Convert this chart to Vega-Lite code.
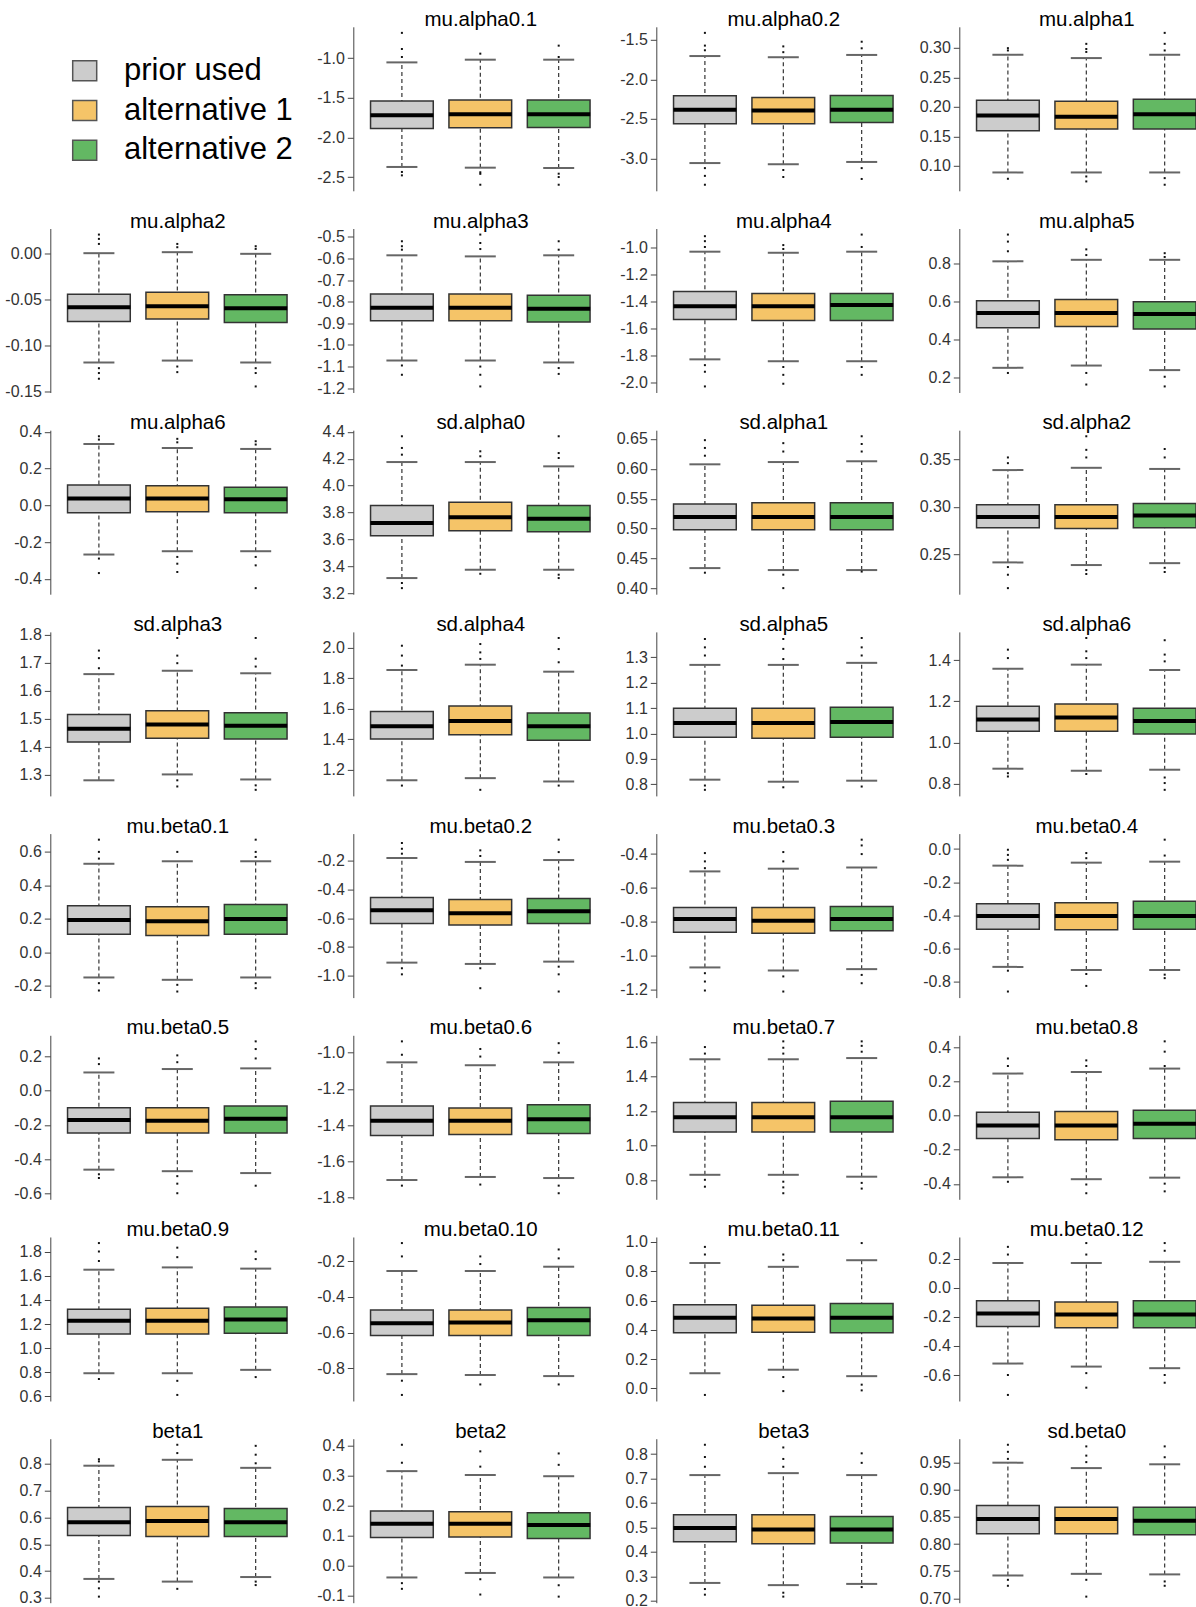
{
  "$schema": "https://vega.github.io/schema/vega-lite/v6.json",
  "autosize": {"type": "none"},
  "padding": {"left": 50.3, "top": 26.8, "right": 1200, "bottom": 1700},
  "background": "white",
  "data": {"values": [
    {"p":1,"g":"a","lo":-2.373,"q1":-1.887,"md":-1.722,"q3":-1.541,"hi":-1.055},
    {"p":1,"g":"b","lo":-2.382,"q1":-1.879,"md":-1.710,"q3":-1.528,"hi":-1.021},
    {"p":1,"g":"c","lo":-2.386,"q1":-1.875,"md":-1.710,"q3":-1.528,"hi":-1.021},
    {"p":1,"g":"a","v":-0.683},{"p":1,"g":"a","v":-0.886},{"p":1,"g":"a","v":-0.987},{"p":1,"g":"a","v":-2.436},{"p":1,"g":"a","v":-2.479},
    {"p":1,"g":"b","v":-0.945},{"p":1,"g":"b","v":-2.44},{"p":1,"g":"b","v":-2.46},{"p":1,"g":"b","v":-2.597},
    {"p":1,"g":"c","v":-0.844},{"p":1,"g":"c","v":-0.987},{"p":1,"g":"c","v":-2.458},{"p":1,"g":"c","v":-2.5},{"p":1,"g":"c","v":-2.597},

    {"p":2,"g":"a","lo":-3.058,"q1":-2.560,"md":-2.384,"q3":-2.208,"hi":-1.705},
    {"p":2,"g":"b","lo":-3.073,"q1":-2.560,"md":-2.394,"q3":-2.228,"hi":-1.720},
    {"p":2,"g":"c","lo":-3.044,"q1":-2.545,"md":-2.384,"q3":-2.203,"hi":-1.691},
    {"p":2,"g":"a","v":-1.412},{"p":2,"g":"a","v":-1.573},{"p":2,"g":"a","v":-1.632},{"p":2,"g":"a","v":-3.122},{"p":2,"g":"a","v":-3.22},{"p":2,"g":"a","v":-3.332},
    {"p":2,"g":"b","v":-1.583},{"p":2,"g":"b","v":-1.656},{"p":2,"g":"b","v":-3.146},{"p":2,"g":"b","v":-3.234},
    {"p":2,"g":"c","v":-1.524},{"p":2,"g":"c","v":-1.607},{"p":2,"g":"c","v":-3.122},{"p":2,"g":"c","v":-3.259},

    {"p":3,"g":"a","lo":0.0888,"q1":0.1596,"md":0.1854,"q3":0.2112,"hi":0.2882},
    {"p":3,"g":"b","lo":0.0888,"q1":0.1624,"md":0.1831,"q3":0.2096,"hi":0.2826},
    {"p":3,"g":"c","lo":0.0888,"q1":0.1624,"md":0.1876,"q3":0.2129,"hi":0.2882},
    {"p":3,"g":"a","v":0.2994},{"p":3,"g":"a","v":0.2955},{"p":3,"g":"a","v":0.0781},
    {"p":3,"g":"b","v":0.3067},{"p":3,"g":"b","v":0.298},{"p":3,"g":"b","v":0.293},{"p":3,"g":"b","v":0.082},{"p":3,"g":"b","v":0.0736},
    {"p":3,"g":"c","v":0.3253},{"p":3,"g":"c","v":0.3067},{"p":3,"g":"c","v":0.2955},{"p":3,"g":"c","v":0.0792},{"p":3,"g":"c","v":0.068},

    {"p":4,"g":"a","lo":-0.1185,"q1":-0.0737,"md":-0.0582,"q3":-0.0441,"hi":0.0007},
    {"p":4,"g":"b","lo":-0.1164,"q1":-0.0712,"md":-0.0571,"q3":-0.0419,"hi":0.0018},
    {"p":4,"g":"c","lo":-0.1185,"q1":-0.0748,"md":-0.0593,"q3":-0.0445,"hi":0.0},
    {"p":4,"g":"a","v":0.021},{"p":4,"g":"a","v":0.0163},{"p":4,"g":"a","v":0.0108},{"p":4,"g":"a","v":-0.1247},{"p":4,"g":"a","v":-0.130},{"p":4,"g":"a","v":-0.1362},
    {"p":4,"g":"b","v":0.0108},{"p":4,"g":"b","v":0.0072},{"p":4,"g":"b","v":-0.1229},{"p":4,"g":"b","v":-0.129},
    {"p":4,"g":"c","v":0.0083},{"p":4,"g":"c","v":0.0054},{"p":4,"g":"c","v":-0.1247},{"p":4,"g":"c","v":-0.130},{"p":4,"g":"c","v":-0.1446},

    {"p":5,"g":"a","lo":-1.072,"q1":-0.888,"md":-0.828,"q3":-0.764,"hi":-0.585},
    {"p":5,"g":"b","lo":-1.072,"q1":-0.888,"md":-0.828,"q3":-0.764,"hi":-0.590},
    {"p":5,"g":"c","lo":-1.081,"q1":-0.894,"md":-0.832,"q3":-0.770,"hi":-0.585},
    {"p":5,"g":"a","v":-0.520},{"p":5,"g":"a","v":-0.543},{"p":5,"g":"a","v":-0.559},{"p":5,"g":"a","v":-1.095},{"p":5,"g":"a","v":-1.138},
    {"p":5,"g":"b","v":-0.489},{"p":5,"g":"b","v":-0.528},{"p":5,"g":"b","v":-0.556},{"p":5,"g":"b","v":-1.100},{"p":5,"g":"b","v":-1.138},{"p":5,"g":"b","v":-1.192},
    {"p":5,"g":"c","v":-0.520},{"p":5,"g":"c","v":-0.559},{"p":5,"g":"c","v":-1.107},{"p":5,"g":"c","v":-1.134},

    {"p":6,"g":"a","lo":-1.828,"q1":-1.532,"md":-1.434,"q3":-1.325,"hi":-1.029},
    {"p":6,"g":"b","lo":-1.842,"q1":-1.540,"md":-1.434,"q3":-1.339,"hi":-1.037},
    {"p":6,"g":"c","lo":-1.842,"q1":-1.540,"md":-1.425,"q3":-1.339,"hi":-1.029},
    {"p":6,"g":"a","v":-0.914},{"p":6,"g":"a","v":-0.951},{"p":6,"g":"a","v":-0.994},{"p":6,"g":"a","v":-1.871},{"p":6,"g":"a","v":-1.92},{"p":6,"g":"a","v":-2.029},
    {"p":6,"g":"b","v":-0.980},{"p":6,"g":"b","v":-1.009},{"p":6,"g":"b","v":-1.885},{"p":6,"g":"b","v":-1.943},{"p":6,"g":"b","v":-2.009},
    {"p":6,"g":"c","v":-0.902},{"p":6,"g":"c","v":-0.994},{"p":6,"g":"c","v":-1.885},{"p":6,"g":"c","v":-1.943},

    {"p":7,"g":"a","lo":0.253,"q1":0.464,"md":0.542,"q3":0.607,"hi":0.814},
    {"p":7,"g":"b","lo":0.265,"q1":0.471,"md":0.542,"q3":0.613,"hi":0.822},
    {"p":7,"g":"c","lo":0.241,"q1":0.458,"md":0.536,"q3":0.601,"hi":0.822},
    {"p":7,"g":"a","v":0.955},{"p":7,"g":"a","v":0.918},{"p":7,"g":"a","v":0.867},{"p":7,"g":"a","v":0.226},
    {"p":7,"g":"b","v":0.877},{"p":7,"g":"b","v":0.847},{"p":7,"g":"b","v":0.226},{"p":7,"g":"b","v":0.165},
    {"p":7,"g":"c","v":0.857},{"p":7,"g":"c","v":0.837},{"p":7,"g":"c","v":0.206},{"p":7,"g":"c","v":0.155},

    {"p":8,"g":"a","lo":-0.268,"q1":-0.040,"md":0.037,"q3":0.111,"hi":0.334},
    {"p":8,"g":"b","lo":-0.250,"q1":-0.035,"md":0.037,"q3":0.106,"hi":0.312},
    {"p":8,"g":"c","lo":-0.250,"q1":-0.040,"md":0.033,"q3":0.099,"hi":0.307},
    {"p":8,"g":"a","v":0.376},{"p":8,"g":"a","v":0.358},{"p":8,"g":"a","v":-0.290},{"p":8,"g":"a","v":-0.369},
    {"p":8,"g":"b","v":0.362},{"p":8,"g":"b","v":0.343},{"p":8,"g":"b","v":-0.281},{"p":8,"g":"b","v":-0.318},{"p":8,"g":"b","v":-0.363},
    {"p":8,"g":"c","v":0.349},{"p":8,"g":"c","v":0.331},{"p":8,"g":"c","v":-0.281},{"p":8,"g":"c","v":-0.327},{"p":8,"g":"c","v":-0.451},

    {"p":9,"g":"a","lo":3.312,"q1":3.627,"md":3.722,"q3":3.853,"hi":4.176},
    {"p":9,"g":"b","lo":3.374,"q1":3.665,"md":3.764,"q3":3.876,"hi":4.176},
    {"p":9,"g":"c","lo":3.374,"q1":3.657,"md":3.754,"q3":3.853,"hi":4.144},
    {"p":9,"g":"a","v":4.368},{"p":9,"g":"a","v":4.281},{"p":9,"g":"a","v":4.231},{"p":9,"g":"a","v":3.275},{"p":9,"g":"a","v":3.237},
    {"p":9,"g":"b","v":4.256},{"p":9,"g":"b","v":4.219},{"p":9,"g":"b","v":3.344},
    {"p":9,"g":"c","v":4.368},{"p":9,"g":"c","v":4.243},{"p":9,"g":"c","v":4.206},{"p":9,"g":"c","v":3.337},{"p":9,"g":"c","v":3.312},

    {"p":10,"g":"a","lo":0.4341,"q1":0.4983,"md":0.5195,"q3":0.5414,"hi":0.6076},
    {"p":10,"g":"b","lo":0.4308,"q1":0.4983,"md":0.5195,"q3":0.5433,"hi":0.6114},
    {"p":10,"g":"c","lo":0.4308,"q1":0.4983,"md":0.5195,"q3":0.5433,"hi":0.6127},
    {"p":10,"g":"a","v":0.648},{"p":10,"g":"a","v":0.635},{"p":10,"g":"a","v":0.622},{"p":10,"g":"a","v":0.4264},
    {"p":10,"g":"b","v":0.643},{"p":10,"g":"b","v":0.629},{"p":10,"g":"b","v":0.4231},{"p":10,"g":"b","v":0.4006},
    {"p":10,"g":"c","v":0.6545},{"p":10,"g":"c","v":0.6416},{"p":10,"g":"c","v":0.629},{"p":10,"g":"c","v":0.4283},

    {"p":11,"g":"a","lo":0.2415,"q1":0.2779,"md":0.2893,"q3":0.3022,"hi":0.3387},
    {"p":11,"g":"b","lo":0.2387,"q1":0.2771,"md":0.2893,"q3":0.3022,"hi":0.3411},
    {"p":11,"g":"c","lo":0.2407,"q1":0.2779,"md":0.2909,"q3":0.3034,"hi":0.3399},
    {"p":11,"g":"a","v":0.352},{"p":11,"g":"a","v":0.346},{"p":11,"g":"a","v":0.2366},{"p":11,"g":"a","v":0.2285},{"p":11,"g":"a","v":0.2144},
    {"p":11,"g":"b","v":0.3743},{"p":11,"g":"b","v":0.360},{"p":11,"g":"b","v":0.352},{"p":11,"g":"b","v":0.2334},{"p":11,"g":"b","v":0.2293},
    {"p":11,"g":"c","v":0.3609},{"p":11,"g":"c","v":0.352},{"p":11,"g":"c","v":0.2358},{"p":11,"g":"c","v":0.2314},

    {"p":12,"g":"a","lo":1.280,"q1":1.417,"md":1.464,"q3":1.515,"hi":1.659},
    {"p":12,"g":"b","lo":1.301,"q1":1.430,"md":1.479,"q3":1.528,"hi":1.671},
    {"p":12,"g":"c","lo":1.283,"q1":1.427,"md":1.475,"q3":1.521,"hi":1.662},
    {"p":12,"g":"a","v":1.743},{"p":12,"g":"a","v":1.716},{"p":12,"g":"a","v":1.680},
    {"p":12,"g":"b","v":1.788},{"p":12,"g":"b","v":1.725},{"p":12,"g":"b","v":1.698},{"p":12,"g":"b","v":1.280},{"p":12,"g":"b","v":1.258},
    {"p":12,"g":"c","v":1.788},{"p":12,"g":"c","v":1.714},{"p":12,"g":"c","v":1.686},{"p":12,"g":"c","v":1.262},{"p":12,"g":"c","v":1.246},

    {"p":13,"g":"a","lo":1.129,"q1":1.401,"md":1.485,"q3":1.581,"hi":1.855},
    {"p":13,"g":"b","lo":1.143,"q1":1.428,"md":1.520,"q3":1.618,"hi":1.890},
    {"p":13,"g":"c","lo":1.121,"q1":1.393,"md":1.485,"q3":1.572,"hi":1.844},
    {"p":13,"g":"a","v":2.015},{"p":13,"g":"a","v":1.950},{"p":13,"g":"a","v":1.884},{"p":13,"g":"a","v":1.094},
    {"p":13,"g":"b","v":2.026},{"p":13,"g":"b","v":1.971},{"p":13,"g":"b","v":1.928},{"p":13,"g":"b","v":1.066},
    {"p":13,"g":"c","v":2.066},{"p":13,"g":"c","v":1.993},{"p":13,"g":"c","v":1.906},{"p":13,"g":"c","v":1.094},

    {"p":14,"g":"a","lo":0.818,"q1":0.985,"md":1.041,"q3":1.099,"hi":1.270},
    {"p":14,"g":"b","lo":0.810,"q1":0.981,"md":1.041,"q3":1.099,"hi":1.270},
    {"p":14,"g":"c","lo":0.814,"q1":0.985,"md":1.045,"q3":1.103,"hi":1.278},
    {"p":14,"g":"a","v":1.372},{"p":14,"g":"a","v":1.339},{"p":14,"g":"a","v":1.307},{"p":14,"g":"a","v":0.795},{"p":14,"g":"a","v":0.778},
    {"p":14,"g":"b","v":1.372},{"p":14,"g":"b","v":1.333},{"p":14,"g":"b","v":1.293},{"p":14,"g":"b","v":0.788},
    {"p":14,"g":"c","v":1.376},{"p":14,"g":"c","v":1.339},{"p":14,"g":"c","v":1.307},{"p":14,"g":"c","v":0.791},

    {"p":15,"g":"a","lo":0.872,"q1":1.054,"md":1.112,"q3":1.176,"hi":1.359},
    {"p":15,"g":"b","lo":0.862,"q1":1.054,"md":1.122,"q3":1.187,"hi":1.379},
    {"p":15,"g":"c","lo":0.867,"q1":1.041,"md":1.104,"q3":1.167,"hi":1.353},
    {"p":15,"g":"a","v":1.452},{"p":15,"g":"a","v":1.411},{"p":15,"g":"a","v":0.850},{"p":15,"g":"a","v":0.834},
    {"p":15,"g":"b","v":1.509},{"p":15,"g":"b","v":1.444},{"p":15,"g":"b","v":1.411},{"p":15,"g":"b","v":0.846},
    {"p":15,"g":"c","v":1.498},{"p":15,"g":"c","v":1.428},{"p":15,"g":"c","v":1.395},{"p":15,"g":"c","v":0.829},{"p":15,"g":"c","v":0.802},{"p":15,"g":"c","v":0.769},

    {"p":16,"g":"a","lo":-0.150,"q1":0.108,"md":0.193,"q3":0.278,"hi":0.529},
    {"p":16,"g":"b","lo":-0.164,"q1":0.100,"md":0.185,"q3":0.272,"hi":0.544},
    {"p":16,"g":"c","lo":-0.150,"q1":0.108,"md":0.199,"q3":0.286,"hi":0.544},
    {"p":16,"g":"a","v":0.673},{"p":16,"g":"a","v":0.600},{"p":16,"g":"a","v":0.560},{"p":16,"g":"a","v":-0.184},{"p":16,"g":"a","v":-0.228},
    {"p":16,"g":"b","v":0.600},{"p":16,"g":"b","v":-0.194},{"p":16,"g":"b","v":-0.234},
    {"p":16,"g":"c","v":0.673},{"p":16,"g":"c","v":0.600},{"p":16,"g":"c","v":0.570},{"p":16,"g":"c","v":-0.184},{"p":16,"g":"c","v":-0.214},

    {"p":17,"g":"a","lo":-0.908,"q1":-0.637,"md":-0.545,"q3":-0.457,"hi":-0.184},
    {"p":17,"g":"b","lo":-0.917,"q1":-0.648,"md":-0.566,"q3":-0.471,"hi":-0.211},
    {"p":17,"g":"c","lo":-0.901,"q1":-0.637,"md":-0.552,"q3":-0.464,"hi":-0.198},
    {"p":17,"g":"a","v":-0.080},{"p":17,"g":"a","v":-0.120},{"p":17,"g":"a","v":-0.154},{"p":17,"g":"a","v":-0.947},{"p":17,"g":"a","v":-0.989},
    {"p":17,"g":"b","v":-0.131},{"p":17,"g":"b","v":-0.170},{"p":17,"g":"b","v":-0.947},{"p":17,"g":"b","v":-1.085},
    {"p":17,"g":"c","v":-0.057},{"p":17,"g":"c","v":-0.143},{"p":17,"g":"c","v":-0.936},{"p":17,"g":"c","v":-0.989},{"p":17,"g":"c","v":-1.108},

    {"p":18,"g":"a","lo":-1.068,"q1":-0.860,"md":-0.783,"q3":-0.715,"hi":-0.502},
    {"p":18,"g":"b","lo":-1.086,"q1":-0.866,"md":-0.793,"q3":-0.715,"hi":-0.486},
    {"p":18,"g":"c","lo":-1.078,"q1":-0.852,"md":-0.783,"q3":-0.709,"hi":-0.479},
    {"p":18,"g":"a","v":-0.394},{"p":18,"g":"a","v":-0.443},{"p":18,"g":"a","v":-0.483},{"p":18,"g":"a","v":-1.102},{"p":18,"g":"a","v":-1.151},{"p":18,"g":"a","v":-1.204},
    {"p":18,"g":"b","v":-0.388},{"p":18,"g":"b","v":-0.443},{"p":18,"g":"b","v":-1.121},{"p":18,"g":"b","v":-1.210},
    {"p":18,"g":"c","v":-0.315},{"p":18,"g":"c","v":-0.349},{"p":18,"g":"c","v":-0.400},{"p":18,"g":"c","v":-1.112},{"p":18,"g":"c","v":-1.161},

    {"p":19,"g":"a","lo":-0.712,"q1":-0.484,"md":-0.404,"q3":-0.331,"hi":-0.100},
    {"p":19,"g":"b","lo":-0.731,"q1":-0.488,"md":-0.404,"q3":-0.324,"hi":-0.082},
    {"p":19,"g":"c","lo":-0.731,"q1":-0.484,"md":-0.404,"q3":-0.316,"hi":-0.076},
    {"p":19,"g":"a","v":-0.004},{"p":19,"g":"a","v":-0.035},{"p":19,"g":"a","v":-0.065},{"p":19,"g":"a","v":-0.735},{"p":19,"g":"a","v":-0.861},
    {"p":19,"g":"b","v":-0.024},{"p":19,"g":"b","v":-0.055},{"p":19,"g":"b","v":-0.755},{"p":19,"g":"b","v":-0.827},
    {"p":19,"g":"c","v":0.057},{"p":19,"g":"c","v":-0.039},{"p":19,"g":"c","v":-0.759},{"p":19,"g":"c","v":-0.780},

    {"p":20,"g":"a","lo":-0.462,"q1":-0.247,"md":-0.171,"q3":-0.100,"hi":0.107},
    {"p":20,"g":"b","lo":-0.471,"q1":-0.247,"md":-0.176,"q3":-0.100,"hi":0.127},
    {"p":20,"g":"c","lo":-0.482,"q1":-0.247,"md":-0.164,"q3":-0.089,"hi":0.131},
    {"p":20,"g":"a","v":0.189},{"p":20,"g":"a","v":0.156},{"p":20,"g":"a","v":-0.489},{"p":20,"g":"a","v":-0.511},
    {"p":20,"g":"b","v":0.207},{"p":20,"g":"b","v":0.167},{"p":20,"g":"b","v":-0.500},{"p":20,"g":"b","v":-0.544},{"p":20,"g":"b","v":-0.600},
    {"p":20,"g":"c","v":0.289},{"p":20,"g":"c","v":0.244},{"p":20,"g":"c","v":0.189},{"p":20,"g":"c","v":-0.556},

    {"p":21,"g":"a","lo":-1.704,"q1":-1.458,"md":-1.376,"q3":-1.294,"hi":-1.053},
    {"p":21,"g":"b","lo":-1.687,"q1":-1.452,"md":-1.376,"q3":-1.305,"hi":-1.069},
    {"p":21,"g":"c","lo":-1.693,"q1":-1.447,"md":-1.368,"q3":-1.288,"hi":-1.053},
    {"p":21,"g":"a","v":-0.937},{"p":21,"g":"a","v":-1.011},{"p":21,"g":"a","v":-1.735},
    {"p":21,"g":"b","v":-0.979},{"p":21,"g":"b","v":-1.021},{"p":21,"g":"b","v":-1.729},
    {"p":21,"g":"c","v":-0.947},{"p":21,"g":"c","v":-1.0},{"p":21,"g":"c","v":-1.735},{"p":21,"g":"c","v":-1.777},

    {"p":22,"g":"a","lo":0.829,"q1":1.078,"md":1.164,"q3":1.249,"hi":1.500},
    {"p":22,"g":"b","lo":0.829,"q1":1.078,"md":1.164,"q3":1.249,"hi":1.500},
    {"p":22,"g":"c","lo":0.818,"q1":1.078,"md":1.164,"q3":1.256,"hi":1.507},
    {"p":22,"g":"a","v":1.571},{"p":22,"g":"a","v":1.533},{"p":22,"g":"a","v":0.800},{"p":22,"g":"a","v":0.760},
    {"p":22,"g":"b","v":1.604},{"p":22,"g":"b","v":1.567},{"p":22,"g":"b","v":1.533},{"p":22,"g":"b","v":0.789},{"p":22,"g":"b","v":0.756},{"p":22,"g":"b","v":0.722},
    {"p":22,"g":"c","v":1.604},{"p":22,"g":"c","v":1.578},{"p":22,"g":"c","v":1.544},{"p":22,"g":"c","v":0.782},{"p":22,"g":"c","v":0.749},

    {"p":23,"g":"a","lo":-0.361,"q1":-0.134,"md":-0.059,"q3":0.019,"hi":0.245},
    {"p":23,"g":"b","lo":-0.372,"q1":-0.141,"md":-0.059,"q3":0.023,"hi":0.254},
    {"p":23,"g":"c","lo":-0.363,"q1":-0.134,"md":-0.048,"q3":0.030,"hi":0.274},
    {"p":23,"g":"a","v":0.333},{"p":23,"g":"a","v":0.289},{"p":23,"g":"a","v":-0.387},
    {"p":23,"g":"b","v":0.322},{"p":23,"g":"b","v":0.289},{"p":23,"g":"b","v":-0.403},{"p":23,"g":"b","v":-0.454},
    {"p":23,"g":"c","v":0.433},{"p":23,"g":"c","v":0.373},{"p":23,"g":"c","v":0.289},{"p":23,"g":"c","v":-0.398},{"p":23,"g":"c","v":-0.443},

    {"p":24,"g":"a","lo":0.793,"q1":1.118,"md":1.228,"q3":1.323,"hi":1.652},
    {"p":24,"g":"b","lo":0.793,"q1":1.118,"md":1.228,"q3":1.333,"hi":1.671},
    {"p":24,"g":"c","lo":0.821,"q1":1.124,"md":1.238,"q3":1.342,"hi":1.661},
    {"p":24,"g":"a","v":1.873},{"p":24,"g":"a","v":1.803},{"p":24,"g":"a","v":1.724},{"p":24,"g":"a","v":0.745},
    {"p":24,"g":"b","v":1.835},{"p":24,"g":"b","v":1.756},{"p":24,"g":"b","v":0.730},{"p":24,"g":"b","v":0.613},
    {"p":24,"g":"c","v":1.803},{"p":24,"g":"c","v":1.740},{"p":24,"g":"c","v":0.761},

    {"p":25,"g":"a","lo":-0.834,"q1":-0.617,"md":-0.548,"q3":-0.473,"hi":-0.254},
    {"p":25,"g":"b","lo":-0.839,"q1":-0.617,"md":-0.544,"q3":-0.473,"hi":-0.254},
    {"p":25,"g":"c","lo":-0.845,"q1":-0.617,"md":-0.531,"q3":-0.460,"hi":-0.230},
    {"p":25,"g":"a","v":-0.097},{"p":25,"g":"a","v":-0.172},{"p":25,"g":"a","v":-0.871},{"p":25,"g":"a","v":-0.951},
    {"p":25,"g":"b","v":-0.172},{"p":25,"g":"b","v":-0.215},{"p":25,"g":"b","v":-0.892},
    {"p":25,"g":"c","v":-0.133},{"p":25,"g":"c","v":-0.183},{"p":25,"g":"c","v":-0.892},

    {"p":26,"g":"a","lo":0.104,"q1":0.381,"md":0.483,"q3":0.572,"hi":0.856},
    {"p":26,"g":"b","lo":0.128,"q1":0.384,"md":0.478,"q3":0.567,"hi":0.830},
    {"p":26,"g":"c","lo":0.084,"q1":0.381,"md":0.483,"q3":0.580,"hi":0.875},
    {"p":26,"g":"a","v":0.966},{"p":26,"g":"a","v":0.914},{"p":26,"g":"a","v":-0.044},
    {"p":26,"g":"b","v":0.914},{"p":26,"g":"b","v":0.875},{"p":26,"g":"b","v":0.078},{"p":26,"g":"b","v":-0.018},
    {"p":26,"g":"c","v":0.992},{"p":26,"g":"c","v":0.026},{"p":26,"g":"c","v":-0.013},

    {"p":27,"g":"a","lo":-0.521,"q1":-0.266,"md":-0.176,"q3":-0.089,"hi":0.171},
    {"p":27,"g":"b","lo":-0.542,"q1":-0.274,"md":-0.184,"q3":-0.097,"hi":0.171},
    {"p":27,"g":"c","lo":-0.553,"q1":-0.274,"md":-0.184,"q3":-0.089,"hi":0.179},
    {"p":27,"g":"a","v":0.282},{"p":27,"g":"a","v":0.229},{"p":27,"g":"a","v":-0.600},{"p":27,"g":"a","v":-0.737},
    {"p":27,"g":"b","v":0.308},{"p":27,"g":"b","v":0.229},{"p":27,"g":"b","v":-0.587},{"p":27,"g":"b","v":-0.687},
    {"p":27,"g":"c","v":0.308},{"p":27,"g":"c","v":0.255},{"p":27,"g":"c","v":-0.600},{"p":27,"g":"c","v":-0.653},

    {"p":28,"g":"a","lo":0.371,"q1":0.533,"md":0.582,"q3":0.637,"hi":0.793},
    {"p":28,"g":"b","lo":0.361,"q1":0.529,"md":0.587,"q3":0.641,"hi":0.815},
    {"p":28,"g":"c","lo":0.378,"q1":0.529,"md":0.582,"q3":0.633,"hi":0.785},
    {"p":28,"g":"a","v":0.817},{"p":28,"g":"a","v":0.809},{"p":28,"g":"a","v":0.361},{"p":28,"g":"a","v":0.336},{"p":28,"g":"a","v":0.305},
    {"p":28,"g":"b","v":0.871},{"p":28,"g":"b","v":0.840},{"p":28,"g":"b","v":0.334},
    {"p":28,"g":"c","v":0.867},{"p":28,"g":"c","v":0.834},{"p":28,"g":"c","v":0.802},{"p":28,"g":"c","v":0.361},{"p":28,"g":"c","v":0.348},

    {"p":29,"g":"a","lo":-0.040,"q1":0.093,"md":0.139,"q3":0.182,"hi":0.315},
    {"p":29,"g":"b","lo":-0.025,"q1":0.095,"md":0.139,"q3":0.179,"hi":0.302},
    {"p":29,"g":"c","lo":-0.040,"q1":0.090,"md":0.135,"q3":0.176,"hi":0.298},
    {"p":29,"g":"a","v":0.403},{"p":29,"g":"a","v":0.343},{"p":29,"g":"a","v":-0.059},{"p":29,"g":"a","v":-0.078},
    {"p":29,"g":"b","v":0.381},{"p":29,"g":"b","v":0.330},{"p":29,"g":"b","v":-0.046},{"p":29,"g":"b","v":-0.097},
    {"p":29,"g":"c","v":0.374},{"p":29,"g":"c","v":0.336},{"p":29,"g":"c","v":-0.066},{"p":29,"g":"c","v":-0.104},

    {"p":30,"g":"a","lo":0.273,"q1":0.441,"md":0.498,"q3":0.552,"hi":0.714},
    {"p":30,"g":"b","lo":0.264,"q1":0.433,"md":0.491,"q3":0.552,"hi":0.722},
    {"p":30,"g":"c","lo":0.269,"q1":0.436,"md":0.491,"q3":0.545,"hi":0.714},
    {"p":30,"g":"a","v":0.838},{"p":30,"g":"a","v":0.788},{"p":30,"g":"a","v":0.748},{"p":30,"g":"a","v":0.248},{"p":30,"g":"a","v":0.225},
    {"p":30,"g":"b","v":0.827},{"p":30,"g":"b","v":0.780},{"p":30,"g":"b","v":0.748},{"p":30,"g":"b","v":0.233},{"p":30,"g":"b","v":0.217},
    {"p":30,"g":"c","v":0.803},{"p":30,"g":"c","v":0.764},{"p":30,"g":"c","v":0.256},

    {"p":31,"g":"a","lo":0.742,"q1":0.819,"md":0.846,"q3":0.871,"hi":0.950},
    {"p":31,"g":"b","lo":0.745,"q1":0.819,"md":0.846,"q3":0.868,"hi":0.940},
    {"p":31,"g":"c","lo":0.744,"q1":0.817,"md":0.843,"q3":0.868,"hi":0.947},
    {"p":31,"g":"a","v":0.983},{"p":31,"g":"a","v":0.970},{"p":31,"g":"a","v":0.957},{"p":31,"g":"a","v":0.734},{"p":31,"g":"a","v":0.723},
    {"p":31,"g":"b","v":0.980},{"p":31,"g":"b","v":0.963},{"p":31,"g":"b","v":0.951},{"p":31,"g":"b","v":0.734},{"p":31,"g":"b","v":0.703},
    {"p":31,"g":"c","v":0.980},{"p":31,"g":"c","v":0.960},{"p":31,"g":"c","v":0.731},{"p":31,"g":"c","v":0.723}
  ]},
  "columns": 4,
  "spacing": {"row": 37.7, "column": 49},
  "bounds": "flush",
  "concat": [
    {"data": {"values": []}, "mark": "point"},
    {"transform":[{"filter":"datum.p==1"}],"encoding":{"x":{"field":"g","type":"nominal","title":"mu.alpha0.1","axis":{"orient":"top"}}},"layer":[
      {"mark":{"type":"rule","color":"#222","strokeDash":[4,3],"strokeWidth":1.1},"encoding":{"y":{"field":"lo","type":"quantitative","title":null,"scale":{"zero":false,"nice":false,"padding":6.07},"axis":{"tickCount":20,"values":[-1,-1.5,-2,-2.5]}},"y2":{"field":"hi"}}},
      {"mark":{"type":"tick","color":"#666","size":31,"thickness":2,"opacity":1},"encoding":{"y":{"field":"lo","type":"quantitative"}}},
      {"mark":{"type":"tick","color":"#666","size":31,"thickness":2,"opacity":1},"encoding":{"y":{"field":"hi","type":"quantitative"}}},
      {"mark":{"type":"bar","stroke":"#333","strokeWidth":1.5,"opacity":1},"encoding":{"y":{"field":"q1","type":"quantitative"},"y2":{"field":"q3"},"fill":{"field":"g","type":"nominal","title":null,"legend":{"labelExpr":"datum.label=='a'?'prior used':datum.label=='b'?'alternative 1':'alternative 2'"}}}},
      {"mark":{"type":"tick","color":"#000","size":63,"thickness":4,"opacity":1},"encoding":{"y":{"field":"md","type":"quantitative"}}},
      {"mark":{"type":"point","shape":"square","size":4,"filled":true,"color":"#111","opacity":1},"encoding":{"y":{"field":"v","type":"quantitative"}}}
    ]},
    {"transform":[{"filter":"datum.p==2"}],"encoding":{"x":{"field":"g","type":"nominal","title":"mu.alpha0.2","axis":{"orient":"top"}}},"layer":[
      {"mark":{"type":"rule","color":"#222","strokeDash":[4,3],"strokeWidth":1.1},"encoding":{"y":{"field":"lo","type":"quantitative","title":null,"scale":{"zero":false,"nice":false,"padding":6.07},"axis":{"tickCount":20,"values":[-1.5,-2,-2.5,-3]}},"y2":{"field":"hi"}}},
      {"mark":{"type":"tick","color":"#666","size":31,"thickness":2,"opacity":1},"encoding":{"y":{"field":"lo","type":"quantitative"}}},
      {"mark":{"type":"tick","color":"#666","size":31,"thickness":2,"opacity":1},"encoding":{"y":{"field":"hi","type":"quantitative"}}},
      {"mark":{"type":"bar","stroke":"#333","strokeWidth":1.5,"opacity":1},"encoding":{"y":{"field":"q1","type":"quantitative"},"y2":{"field":"q3"},"fill":{"field":"g","type":"nominal","title":null}}},
      {"mark":{"type":"tick","color":"#000","size":63,"thickness":4,"opacity":1},"encoding":{"y":{"field":"md","type":"quantitative"}}},
      {"mark":{"type":"point","shape":"square","size":4,"filled":true,"color":"#111","opacity":1},"encoding":{"y":{"field":"v","type":"quantitative"}}}
    ]},
    {"transform":[{"filter":"datum.p==3"}],"encoding":{"x":{"field":"g","type":"nominal","title":"mu.alpha1","axis":{"orient":"top"}}},"layer":[
      {"mark":{"type":"rule","color":"#222","strokeDash":[4,3],"strokeWidth":1.1},"encoding":{"y":{"field":"lo","type":"quantitative","title":null,"scale":{"zero":false,"nice":false,"padding":6.07},"axis":{"tickCount":20,"values":[0.3,0.25,0.2,0.15,0.1],"format":".2f"}},"y2":{"field":"hi"}}},
      {"mark":{"type":"tick","color":"#666","size":31,"thickness":2,"opacity":1},"encoding":{"y":{"field":"lo","type":"quantitative"}}},
      {"mark":{"type":"tick","color":"#666","size":31,"thickness":2,"opacity":1},"encoding":{"y":{"field":"hi","type":"quantitative"}}},
      {"mark":{"type":"bar","stroke":"#333","strokeWidth":1.5,"opacity":1},"encoding":{"y":{"field":"q1","type":"quantitative"},"y2":{"field":"q3"},"fill":{"field":"g","type":"nominal","title":null}}},
      {"mark":{"type":"tick","color":"#000","size":63,"thickness":4,"opacity":1},"encoding":{"y":{"field":"md","type":"quantitative"}}},
      {"mark":{"type":"point","shape":"square","size":4,"filled":true,"color":"#111","opacity":1},"encoding":{"y":{"field":"v","type":"quantitative"}}}
    ]},
    {"transform":[{"filter":"datum.p==4"}],"encoding":{"x":{"field":"g","type":"nominal","title":"mu.alpha2","axis":{"orient":"top"}}},"layer":[
      {"mark":{"type":"rule","color":"#222","strokeDash":[4,3],"strokeWidth":1.1},"encoding":{"y":{"field":"lo","type":"quantitative","title":null,"scale":{"zero":false,"nice":false,"padding":6.07},"axis":{"tickCount":20,"values":[0,-0.05,-0.1,-0.15],"format":".2f"}},"y2":{"field":"hi"}}},
      {"mark":{"type":"tick","color":"#666","size":31,"thickness":2,"opacity":1},"encoding":{"y":{"field":"lo","type":"quantitative"}}},
      {"mark":{"type":"tick","color":"#666","size":31,"thickness":2,"opacity":1},"encoding":{"y":{"field":"hi","type":"quantitative"}}},
      {"mark":{"type":"bar","stroke":"#333","strokeWidth":1.5,"opacity":1},"encoding":{"y":{"field":"q1","type":"quantitative"},"y2":{"field":"q3"},"fill":{"field":"g","type":"nominal","title":null}}},
      {"mark":{"type":"tick","color":"#000","size":63,"thickness":4,"opacity":1},"encoding":{"y":{"field":"md","type":"quantitative"}}},
      {"mark":{"type":"point","shape":"square","size":4,"filled":true,"color":"#111","opacity":1},"encoding":{"y":{"field":"v","type":"quantitative"}}}
    ]},
    {"transform":[{"filter":"datum.p==5"}],"encoding":{"x":{"field":"g","type":"nominal","title":"mu.alpha3","axis":{"orient":"top"}}},"layer":[
      {"mark":{"type":"rule","color":"#222","strokeDash":[4,3],"strokeWidth":1.1},"encoding":{"y":{"field":"lo","type":"quantitative","title":null,"scale":{"zero":false,"nice":false,"padding":6.07},"axis":{"tickCount":20,"values":[-0.5,-0.6,-0.7,-0.8,-0.9,-1,-1.1,-1.2]}},"y2":{"field":"hi"}}},
      {"mark":{"type":"tick","color":"#666","size":31,"thickness":2,"opacity":1},"encoding":{"y":{"field":"lo","type":"quantitative"}}},
      {"mark":{"type":"tick","color":"#666","size":31,"thickness":2,"opacity":1},"encoding":{"y":{"field":"hi","type":"quantitative"}}},
      {"mark":{"type":"bar","stroke":"#333","strokeWidth":1.5,"opacity":1},"encoding":{"y":{"field":"q1","type":"quantitative"},"y2":{"field":"q3"},"fill":{"field":"g","type":"nominal","title":null}}},
      {"mark":{"type":"tick","color":"#000","size":63,"thickness":4,"opacity":1},"encoding":{"y":{"field":"md","type":"quantitative"}}},
      {"mark":{"type":"point","shape":"square","size":4,"filled":true,"color":"#111","opacity":1},"encoding":{"y":{"field":"v","type":"quantitative"}}}
    ]},
    {"transform":[{"filter":"datum.p==6"}],"encoding":{"x":{"field":"g","type":"nominal","title":"mu.alpha4","axis":{"orient":"top"}}},"layer":[
      {"mark":{"type":"rule","color":"#222","strokeDash":[4,3],"strokeWidth":1.1},"encoding":{"y":{"field":"lo","type":"quantitative","title":null,"scale":{"zero":false,"nice":false,"padding":6.07},"axis":{"tickCount":20,"values":[-1,-1.2,-1.4,-1.6,-1.8,-2]}},"y2":{"field":"hi"}}},
      {"mark":{"type":"tick","color":"#666","size":31,"thickness":2,"opacity":1},"encoding":{"y":{"field":"lo","type":"quantitative"}}},
      {"mark":{"type":"tick","color":"#666","size":31,"thickness":2,"opacity":1},"encoding":{"y":{"field":"hi","type":"quantitative"}}},
      {"mark":{"type":"bar","stroke":"#333","strokeWidth":1.5,"opacity":1},"encoding":{"y":{"field":"q1","type":"quantitative"},"y2":{"field":"q3"},"fill":{"field":"g","type":"nominal","title":null}}},
      {"mark":{"type":"tick","color":"#000","size":63,"thickness":4,"opacity":1},"encoding":{"y":{"field":"md","type":"quantitative"}}},
      {"mark":{"type":"point","shape":"square","size":4,"filled":true,"color":"#111","opacity":1},"encoding":{"y":{"field":"v","type":"quantitative"}}}
    ]},
    {"transform":[{"filter":"datum.p==7"}],"encoding":{"x":{"field":"g","type":"nominal","title":"mu.alpha5","axis":{"orient":"top"}}},"layer":[
      {"mark":{"type":"rule","color":"#222","strokeDash":[4,3],"strokeWidth":1.1},"encoding":{"y":{"field":"lo","type":"quantitative","title":null,"scale":{"zero":false,"nice":false,"padding":6.07},"axis":{"tickCount":20,"values":[0.8,0.6,0.4,0.2]}},"y2":{"field":"hi"}}},
      {"mark":{"type":"tick","color":"#666","size":31,"thickness":2,"opacity":1},"encoding":{"y":{"field":"lo","type":"quantitative"}}},
      {"mark":{"type":"tick","color":"#666","size":31,"thickness":2,"opacity":1},"encoding":{"y":{"field":"hi","type":"quantitative"}}},
      {"mark":{"type":"bar","stroke":"#333","strokeWidth":1.5,"opacity":1},"encoding":{"y":{"field":"q1","type":"quantitative"},"y2":{"field":"q3"},"fill":{"field":"g","type":"nominal","title":null}}},
      {"mark":{"type":"tick","color":"#000","size":63,"thickness":4,"opacity":1},"encoding":{"y":{"field":"md","type":"quantitative"}}},
      {"mark":{"type":"point","shape":"square","size":4,"filled":true,"color":"#111","opacity":1},"encoding":{"y":{"field":"v","type":"quantitative"}}}
    ]},
    {"transform":[{"filter":"datum.p==8"}],"encoding":{"x":{"field":"g","type":"nominal","title":"mu.alpha6","axis":{"orient":"top"}}},"layer":[
      {"mark":{"type":"rule","color":"#222","strokeDash":[4,3],"strokeWidth":1.1},"encoding":{"y":{"field":"lo","type":"quantitative","title":null,"scale":{"zero":false,"nice":false,"padding":6.07},"axis":{"tickCount":20,"values":[0.4,0.2,0,-0.2,-0.4]}},"y2":{"field":"hi"}}},
      {"mark":{"type":"tick","color":"#666","size":31,"thickness":2,"opacity":1},"encoding":{"y":{"field":"lo","type":"quantitative"}}},
      {"mark":{"type":"tick","color":"#666","size":31,"thickness":2,"opacity":1},"encoding":{"y":{"field":"hi","type":"quantitative"}}},
      {"mark":{"type":"bar","stroke":"#333","strokeWidth":1.5,"opacity":1},"encoding":{"y":{"field":"q1","type":"quantitative"},"y2":{"field":"q3"},"fill":{"field":"g","type":"nominal","title":null}}},
      {"mark":{"type":"tick","color":"#000","size":63,"thickness":4,"opacity":1},"encoding":{"y":{"field":"md","type":"quantitative"}}},
      {"mark":{"type":"point","shape":"square","size":4,"filled":true,"color":"#111","opacity":1},"encoding":{"y":{"field":"v","type":"quantitative"}}}
    ]},
    {"transform":[{"filter":"datum.p==9"}],"encoding":{"x":{"field":"g","type":"nominal","title":"sd.alpha0","axis":{"orient":"top"}}},"layer":[
      {"mark":{"type":"rule","color":"#222","strokeDash":[4,3],"strokeWidth":1.1},"encoding":{"y":{"field":"lo","type":"quantitative","title":null,"scale":{"zero":false,"nice":false,"padding":6.07},"axis":{"tickCount":20,"values":[4.4,4.2,4,3.8,3.6,3.4,3.2]}},"y2":{"field":"hi"}}},
      {"mark":{"type":"tick","color":"#666","size":31,"thickness":2,"opacity":1},"encoding":{"y":{"field":"lo","type":"quantitative"}}},
      {"mark":{"type":"tick","color":"#666","size":31,"thickness":2,"opacity":1},"encoding":{"y":{"field":"hi","type":"quantitative"}}},
      {"mark":{"type":"bar","stroke":"#333","strokeWidth":1.5,"opacity":1},"encoding":{"y":{"field":"q1","type":"quantitative"},"y2":{"field":"q3"},"fill":{"field":"g","type":"nominal","title":null}}},
      {"mark":{"type":"tick","color":"#000","size":63,"thickness":4,"opacity":1},"encoding":{"y":{"field":"md","type":"quantitative"}}},
      {"mark":{"type":"point","shape":"square","size":4,"filled":true,"color":"#111","opacity":1},"encoding":{"y":{"field":"v","type":"quantitative"}}}
    ]},
    {"transform":[{"filter":"datum.p==10"}],"encoding":{"x":{"field":"g","type":"nominal","title":"sd.alpha1","axis":{"orient":"top"}}},"layer":[
      {"mark":{"type":"rule","color":"#222","strokeDash":[4,3],"strokeWidth":1.1},"encoding":{"y":{"field":"lo","type":"quantitative","title":null,"scale":{"zero":false,"nice":false,"padding":6.07},"axis":{"tickCount":20,"values":[0.65,0.6,0.55,0.5,0.45,0.4],"format":".2f"}},"y2":{"field":"hi"}}},
      {"mark":{"type":"tick","color":"#666","size":31,"thickness":2,"opacity":1},"encoding":{"y":{"field":"lo","type":"quantitative"}}},
      {"mark":{"type":"tick","color":"#666","size":31,"thickness":2,"opacity":1},"encoding":{"y":{"field":"hi","type":"quantitative"}}},
      {"mark":{"type":"bar","stroke":"#333","strokeWidth":1.5,"opacity":1},"encoding":{"y":{"field":"q1","type":"quantitative"},"y2":{"field":"q3"},"fill":{"field":"g","type":"nominal","title":null}}},
      {"mark":{"type":"tick","color":"#000","size":63,"thickness":4,"opacity":1},"encoding":{"y":{"field":"md","type":"quantitative"}}},
      {"mark":{"type":"point","shape":"square","size":4,"filled":true,"color":"#111","opacity":1},"encoding":{"y":{"field":"v","type":"quantitative"}}}
    ]},
    {"transform":[{"filter":"datum.p==11"}],"encoding":{"x":{"field":"g","type":"nominal","title":"sd.alpha2","axis":{"orient":"top"}}},"layer":[
      {"mark":{"type":"rule","color":"#222","strokeDash":[4,3],"strokeWidth":1.1},"encoding":{"y":{"field":"lo","type":"quantitative","title":null,"scale":{"zero":false,"nice":false,"padding":6.07},"axis":{"tickCount":20,"values":[0.35,0.3,0.25],"format":".2f"}},"y2":{"field":"hi"}}},
      {"mark":{"type":"tick","color":"#666","size":31,"thickness":2,"opacity":1},"encoding":{"y":{"field":"lo","type":"quantitative"}}},
      {"mark":{"type":"tick","color":"#666","size":31,"thickness":2,"opacity":1},"encoding":{"y":{"field":"hi","type":"quantitative"}}},
      {"mark":{"type":"bar","stroke":"#333","strokeWidth":1.5,"opacity":1},"encoding":{"y":{"field":"q1","type":"quantitative"},"y2":{"field":"q3"},"fill":{"field":"g","type":"nominal","title":null}}},
      {"mark":{"type":"tick","color":"#000","size":63,"thickness":4,"opacity":1},"encoding":{"y":{"field":"md","type":"quantitative"}}},
      {"mark":{"type":"point","shape":"square","size":4,"filled":true,"color":"#111","opacity":1},"encoding":{"y":{"field":"v","type":"quantitative"}}}
    ]},
    {"transform":[{"filter":"datum.p==12"}],"encoding":{"x":{"field":"g","type":"nominal","title":"sd.alpha3","axis":{"orient":"top"}}},"layer":[
      {"mark":{"type":"rule","color":"#222","strokeDash":[4,3],"strokeWidth":1.1},"encoding":{"y":{"field":"lo","type":"quantitative","title":null,"scale":{"zero":false,"nice":false,"padding":6.07},"axis":{"tickCount":20,"values":[1.8,1.7,1.6,1.5,1.4,1.3]}},"y2":{"field":"hi"}}},
      {"mark":{"type":"tick","color":"#666","size":31,"thickness":2,"opacity":1},"encoding":{"y":{"field":"lo","type":"quantitative"}}},
      {"mark":{"type":"tick","color":"#666","size":31,"thickness":2,"opacity":1},"encoding":{"y":{"field":"hi","type":"quantitative"}}},
      {"mark":{"type":"bar","stroke":"#333","strokeWidth":1.5,"opacity":1},"encoding":{"y":{"field":"q1","type":"quantitative"},"y2":{"field":"q3"},"fill":{"field":"g","type":"nominal","title":null}}},
      {"mark":{"type":"tick","color":"#000","size":63,"thickness":4,"opacity":1},"encoding":{"y":{"field":"md","type":"quantitative"}}},
      {"mark":{"type":"point","shape":"square","size":4,"filled":true,"color":"#111","opacity":1},"encoding":{"y":{"field":"v","type":"quantitative"}}}
    ]},
    {"transform":[{"filter":"datum.p==13"}],"encoding":{"x":{"field":"g","type":"nominal","title":"sd.alpha4","axis":{"orient":"top"}}},"layer":[
      {"mark":{"type":"rule","color":"#222","strokeDash":[4,3],"strokeWidth":1.1},"encoding":{"y":{"field":"lo","type":"quantitative","title":null,"scale":{"zero":false,"nice":false,"padding":6.07},"axis":{"tickCount":20,"values":[2,1.8,1.6,1.4,1.2]}},"y2":{"field":"hi"}}},
      {"mark":{"type":"tick","color":"#666","size":31,"thickness":2,"opacity":1},"encoding":{"y":{"field":"lo","type":"quantitative"}}},
      {"mark":{"type":"tick","color":"#666","size":31,"thickness":2,"opacity":1},"encoding":{"y":{"field":"hi","type":"quantitative"}}},
      {"mark":{"type":"bar","stroke":"#333","strokeWidth":1.5,"opacity":1},"encoding":{"y":{"field":"q1","type":"quantitative"},"y2":{"field":"q3"},"fill":{"field":"g","type":"nominal","title":null}}},
      {"mark":{"type":"tick","color":"#000","size":63,"thickness":4,"opacity":1},"encoding":{"y":{"field":"md","type":"quantitative"}}},
      {"mark":{"type":"point","shape":"square","size":4,"filled":true,"color":"#111","opacity":1},"encoding":{"y":{"field":"v","type":"quantitative"}}}
    ]},
    {"transform":[{"filter":"datum.p==14"}],"encoding":{"x":{"field":"g","type":"nominal","title":"sd.alpha5","axis":{"orient":"top"}}},"layer":[
      {"mark":{"type":"rule","color":"#222","strokeDash":[4,3],"strokeWidth":1.1},"encoding":{"y":{"field":"lo","type":"quantitative","title":null,"scale":{"zero":false,"nice":false,"padding":6.07},"axis":{"tickCount":20,"values":[1.3,1.2,1.1,1,0.9,0.8]}},"y2":{"field":"hi"}}},
      {"mark":{"type":"tick","color":"#666","size":31,"thickness":2,"opacity":1},"encoding":{"y":{"field":"lo","type":"quantitative"}}},
      {"mark":{"type":"tick","color":"#666","size":31,"thickness":2,"opacity":1},"encoding":{"y":{"field":"hi","type":"quantitative"}}},
      {"mark":{"type":"bar","stroke":"#333","strokeWidth":1.5,"opacity":1},"encoding":{"y":{"field":"q1","type":"quantitative"},"y2":{"field":"q3"},"fill":{"field":"g","type":"nominal","title":null}}},
      {"mark":{"type":"tick","color":"#000","size":63,"thickness":4,"opacity":1},"encoding":{"y":{"field":"md","type":"quantitative"}}},
      {"mark":{"type":"point","shape":"square","size":4,"filled":true,"color":"#111","opacity":1},"encoding":{"y":{"field":"v","type":"quantitative"}}}
    ]},
    {"transform":[{"filter":"datum.p==15"}],"encoding":{"x":{"field":"g","type":"nominal","title":"sd.alpha6","axis":{"orient":"top"}}},"layer":[
      {"mark":{"type":"rule","color":"#222","strokeDash":[4,3],"strokeWidth":1.1},"encoding":{"y":{"field":"lo","type":"quantitative","title":null,"scale":{"zero":false,"nice":false,"padding":6.07},"axis":{"tickCount":20,"values":[1.4,1.2,1,0.8]}},"y2":{"field":"hi"}}},
      {"mark":{"type":"tick","color":"#666","size":31,"thickness":2,"opacity":1},"encoding":{"y":{"field":"lo","type":"quantitative"}}},
      {"mark":{"type":"tick","color":"#666","size":31,"thickness":2,"opacity":1},"encoding":{"y":{"field":"hi","type":"quantitative"}}},
      {"mark":{"type":"bar","stroke":"#333","strokeWidth":1.5,"opacity":1},"encoding":{"y":{"field":"q1","type":"quantitative"},"y2":{"field":"q3"},"fill":{"field":"g","type":"nominal","title":null}}},
      {"mark":{"type":"tick","color":"#000","size":63,"thickness":4,"opacity":1},"encoding":{"y":{"field":"md","type":"quantitative"}}},
      {"mark":{"type":"point","shape":"square","size":4,"filled":true,"color":"#111","opacity":1},"encoding":{"y":{"field":"v","type":"quantitative"}}}
    ]},
    {"transform":[{"filter":"datum.p==16"}],"encoding":{"x":{"field":"g","type":"nominal","title":"mu.beta0.1","axis":{"orient":"top"}}},"layer":[
      {"mark":{"type":"rule","color":"#222","strokeDash":[4,3],"strokeWidth":1.1},"encoding":{"y":{"field":"lo","type":"quantitative","title":null,"scale":{"zero":false,"nice":false,"padding":6.07},"axis":{"tickCount":20,"values":[0.6,0.4,0.2,0,-0.2]}},"y2":{"field":"hi"}}},
      {"mark":{"type":"tick","color":"#666","size":31,"thickness":2,"opacity":1},"encoding":{"y":{"field":"lo","type":"quantitative"}}},
      {"mark":{"type":"tick","color":"#666","size":31,"thickness":2,"opacity":1},"encoding":{"y":{"field":"hi","type":"quantitative"}}},
      {"mark":{"type":"bar","stroke":"#333","strokeWidth":1.5,"opacity":1},"encoding":{"y":{"field":"q1","type":"quantitative"},"y2":{"field":"q3"},"fill":{"field":"g","type":"nominal","title":null}}},
      {"mark":{"type":"tick","color":"#000","size":63,"thickness":4,"opacity":1},"encoding":{"y":{"field":"md","type":"quantitative"}}},
      {"mark":{"type":"point","shape":"square","size":4,"filled":true,"color":"#111","opacity":1},"encoding":{"y":{"field":"v","type":"quantitative"}}}
    ]},
    {"transform":[{"filter":"datum.p==17"}],"encoding":{"x":{"field":"g","type":"nominal","title":"mu.beta0.2","axis":{"orient":"top"}}},"layer":[
      {"mark":{"type":"rule","color":"#222","strokeDash":[4,3],"strokeWidth":1.1},"encoding":{"y":{"field":"lo","type":"quantitative","title":null,"scale":{"zero":false,"nice":false,"padding":6.07},"axis":{"tickCount":20,"values":[-0.2,-0.4,-0.6,-0.8,-1]}},"y2":{"field":"hi"}}},
      {"mark":{"type":"tick","color":"#666","size":31,"thickness":2,"opacity":1},"encoding":{"y":{"field":"lo","type":"quantitative"}}},
      {"mark":{"type":"tick","color":"#666","size":31,"thickness":2,"opacity":1},"encoding":{"y":{"field":"hi","type":"quantitative"}}},
      {"mark":{"type":"bar","stroke":"#333","strokeWidth":1.5,"opacity":1},"encoding":{"y":{"field":"q1","type":"quantitative"},"y2":{"field":"q3"},"fill":{"field":"g","type":"nominal","title":null}}},
      {"mark":{"type":"tick","color":"#000","size":63,"thickness":4,"opacity":1},"encoding":{"y":{"field":"md","type":"quantitative"}}},
      {"mark":{"type":"point","shape":"square","size":4,"filled":true,"color":"#111","opacity":1},"encoding":{"y":{"field":"v","type":"quantitative"}}}
    ]},
    {"transform":[{"filter":"datum.p==18"}],"encoding":{"x":{"field":"g","type":"nominal","title":"mu.beta0.3","axis":{"orient":"top"}}},"layer":[
      {"mark":{"type":"rule","color":"#222","strokeDash":[4,3],"strokeWidth":1.1},"encoding":{"y":{"field":"lo","type":"quantitative","title":null,"scale":{"zero":false,"nice":false,"padding":6.07},"axis":{"tickCount":20,"values":[-0.4,-0.6,-0.8,-1,-1.2]}},"y2":{"field":"hi"}}},
      {"mark":{"type":"tick","color":"#666","size":31,"thickness":2,"opacity":1},"encoding":{"y":{"field":"lo","type":"quantitative"}}},
      {"mark":{"type":"tick","color":"#666","size":31,"thickness":2,"opacity":1},"encoding":{"y":{"field":"hi","type":"quantitative"}}},
      {"mark":{"type":"bar","stroke":"#333","strokeWidth":1.5,"opacity":1},"encoding":{"y":{"field":"q1","type":"quantitative"},"y2":{"field":"q3"},"fill":{"field":"g","type":"nominal","title":null}}},
      {"mark":{"type":"tick","color":"#000","size":63,"thickness":4,"opacity":1},"encoding":{"y":{"field":"md","type":"quantitative"}}},
      {"mark":{"type":"point","shape":"square","size":4,"filled":true,"color":"#111","opacity":1},"encoding":{"y":{"field":"v","type":"quantitative"}}}
    ]},
    {"transform":[{"filter":"datum.p==19"}],"encoding":{"x":{"field":"g","type":"nominal","title":"mu.beta0.4","axis":{"orient":"top"}}},"layer":[
      {"mark":{"type":"rule","color":"#222","strokeDash":[4,3],"strokeWidth":1.1},"encoding":{"y":{"field":"lo","type":"quantitative","title":null,"scale":{"zero":false,"nice":false,"padding":6.07},"axis":{"tickCount":20,"values":[0,-0.2,-0.4,-0.6,-0.8]}},"y2":{"field":"hi"}}},
      {"mark":{"type":"tick","color":"#666","size":31,"thickness":2,"opacity":1},"encoding":{"y":{"field":"lo","type":"quantitative"}}},
      {"mark":{"type":"tick","color":"#666","size":31,"thickness":2,"opacity":1},"encoding":{"y":{"field":"hi","type":"quantitative"}}},
      {"mark":{"type":"bar","stroke":"#333","strokeWidth":1.5,"opacity":1},"encoding":{"y":{"field":"q1","type":"quantitative"},"y2":{"field":"q3"},"fill":{"field":"g","type":"nominal","title":null}}},
      {"mark":{"type":"tick","color":"#000","size":63,"thickness":4,"opacity":1},"encoding":{"y":{"field":"md","type":"quantitative"}}},
      {"mark":{"type":"point","shape":"square","size":4,"filled":true,"color":"#111","opacity":1},"encoding":{"y":{"field":"v","type":"quantitative"}}}
    ]},
    {"transform":[{"filter":"datum.p==20"}],"encoding":{"x":{"field":"g","type":"nominal","title":"mu.beta0.5","axis":{"orient":"top"}}},"layer":[
      {"mark":{"type":"rule","color":"#222","strokeDash":[4,3],"strokeWidth":1.1},"encoding":{"y":{"field":"lo","type":"quantitative","title":null,"scale":{"zero":false,"nice":false,"padding":6.07},"axis":{"tickCount":20,"values":[0.2,0,-0.2,-0.4,-0.6]}},"y2":{"field":"hi"}}},
      {"mark":{"type":"tick","color":"#666","size":31,"thickness":2,"opacity":1},"encoding":{"y":{"field":"lo","type":"quantitative"}}},
      {"mark":{"type":"tick","color":"#666","size":31,"thickness":2,"opacity":1},"encoding":{"y":{"field":"hi","type":"quantitative"}}},
      {"mark":{"type":"bar","stroke":"#333","strokeWidth":1.5,"opacity":1},"encoding":{"y":{"field":"q1","type":"quantitative"},"y2":{"field":"q3"},"fill":{"field":"g","type":"nominal","title":null}}},
      {"mark":{"type":"tick","color":"#000","size":63,"thickness":4,"opacity":1},"encoding":{"y":{"field":"md","type":"quantitative"}}},
      {"mark":{"type":"point","shape":"square","size":4,"filled":true,"color":"#111","opacity":1},"encoding":{"y":{"field":"v","type":"quantitative"}}}
    ]},
    {"transform":[{"filter":"datum.p==21"}],"encoding":{"x":{"field":"g","type":"nominal","title":"mu.beta0.6","axis":{"orient":"top"}}},"layer":[
      {"mark":{"type":"rule","color":"#222","strokeDash":[4,3],"strokeWidth":1.1},"encoding":{"y":{"field":"lo","type":"quantitative","title":null,"scale":{"zero":false,"nice":false,"padding":6.07},"axis":{"tickCount":20,"values":[-1,-1.2,-1.4,-1.6,-1.8]}},"y2":{"field":"hi"}}},
      {"mark":{"type":"tick","color":"#666","size":31,"thickness":2,"opacity":1},"encoding":{"y":{"field":"lo","type":"quantitative"}}},
      {"mark":{"type":"tick","color":"#666","size":31,"thickness":2,"opacity":1},"encoding":{"y":{"field":"hi","type":"quantitative"}}},
      {"mark":{"type":"bar","stroke":"#333","strokeWidth":1.5,"opacity":1},"encoding":{"y":{"field":"q1","type":"quantitative"},"y2":{"field":"q3"},"fill":{"field":"g","type":"nominal","title":null}}},
      {"mark":{"type":"tick","color":"#000","size":63,"thickness":4,"opacity":1},"encoding":{"y":{"field":"md","type":"quantitative"}}},
      {"mark":{"type":"point","shape":"square","size":4,"filled":true,"color":"#111","opacity":1},"encoding":{"y":{"field":"v","type":"quantitative"}}}
    ]},
    {"transform":[{"filter":"datum.p==22"}],"encoding":{"x":{"field":"g","type":"nominal","title":"mu.beta0.7","axis":{"orient":"top"}}},"layer":[
      {"mark":{"type":"rule","color":"#222","strokeDash":[4,3],"strokeWidth":1.1},"encoding":{"y":{"field":"lo","type":"quantitative","title":null,"scale":{"zero":false,"nice":false,"padding":6.07},"axis":{"tickCount":20,"values":[1.6,1.4,1.2,1,0.8]}},"y2":{"field":"hi"}}},
      {"mark":{"type":"tick","color":"#666","size":31,"thickness":2,"opacity":1},"encoding":{"y":{"field":"lo","type":"quantitative"}}},
      {"mark":{"type":"tick","color":"#666","size":31,"thickness":2,"opacity":1},"encoding":{"y":{"field":"hi","type":"quantitative"}}},
      {"mark":{"type":"bar","stroke":"#333","strokeWidth":1.5,"opacity":1},"encoding":{"y":{"field":"q1","type":"quantitative"},"y2":{"field":"q3"},"fill":{"field":"g","type":"nominal","title":null}}},
      {"mark":{"type":"tick","color":"#000","size":63,"thickness":4,"opacity":1},"encoding":{"y":{"field":"md","type":"quantitative"}}},
      {"mark":{"type":"point","shape":"square","size":4,"filled":true,"color":"#111","opacity":1},"encoding":{"y":{"field":"v","type":"quantitative"}}}
    ]},
    {"transform":[{"filter":"datum.p==23"}],"encoding":{"x":{"field":"g","type":"nominal","title":"mu.beta0.8","axis":{"orient":"top"}}},"layer":[
      {"mark":{"type":"rule","color":"#222","strokeDash":[4,3],"strokeWidth":1.1},"encoding":{"y":{"field":"lo","type":"quantitative","title":null,"scale":{"zero":false,"nice":false,"padding":6.07},"axis":{"tickCount":20,"values":[0.4,0.2,0,-0.2,-0.4]}},"y2":{"field":"hi"}}},
      {"mark":{"type":"tick","color":"#666","size":31,"thickness":2,"opacity":1},"encoding":{"y":{"field":"lo","type":"quantitative"}}},
      {"mark":{"type":"tick","color":"#666","size":31,"thickness":2,"opacity":1},"encoding":{"y":{"field":"hi","type":"quantitative"}}},
      {"mark":{"type":"bar","stroke":"#333","strokeWidth":1.5,"opacity":1},"encoding":{"y":{"field":"q1","type":"quantitative"},"y2":{"field":"q3"},"fill":{"field":"g","type":"nominal","title":null}}},
      {"mark":{"type":"tick","color":"#000","size":63,"thickness":4,"opacity":1},"encoding":{"y":{"field":"md","type":"quantitative"}}},
      {"mark":{"type":"point","shape":"square","size":4,"filled":true,"color":"#111","opacity":1},"encoding":{"y":{"field":"v","type":"quantitative"}}}
    ]},
    {"transform":[{"filter":"datum.p==24"}],"encoding":{"x":{"field":"g","type":"nominal","title":"mu.beta0.9","axis":{"orient":"top"}}},"layer":[
      {"mark":{"type":"rule","color":"#222","strokeDash":[4,3],"strokeWidth":1.1},"encoding":{"y":{"field":"lo","type":"quantitative","title":null,"scale":{"zero":false,"nice":false,"padding":6.07},"axis":{"tickCount":20,"values":[1.8,1.6,1.4,1.2,1,0.8,0.6]}},"y2":{"field":"hi"}}},
      {"mark":{"type":"tick","color":"#666","size":31,"thickness":2,"opacity":1},"encoding":{"y":{"field":"lo","type":"quantitative"}}},
      {"mark":{"type":"tick","color":"#666","size":31,"thickness":2,"opacity":1},"encoding":{"y":{"field":"hi","type":"quantitative"}}},
      {"mark":{"type":"bar","stroke":"#333","strokeWidth":1.5,"opacity":1},"encoding":{"y":{"field":"q1","type":"quantitative"},"y2":{"field":"q3"},"fill":{"field":"g","type":"nominal","title":null}}},
      {"mark":{"type":"tick","color":"#000","size":63,"thickness":4,"opacity":1},"encoding":{"y":{"field":"md","type":"quantitative"}}},
      {"mark":{"type":"point","shape":"square","size":4,"filled":true,"color":"#111","opacity":1},"encoding":{"y":{"field":"v","type":"quantitative"}}}
    ]},
    {"transform":[{"filter":"datum.p==25"}],"encoding":{"x":{"field":"g","type":"nominal","title":"mu.beta0.10","axis":{"orient":"top"}}},"layer":[
      {"mark":{"type":"rule","color":"#222","strokeDash":[4,3],"strokeWidth":1.1},"encoding":{"y":{"field":"lo","type":"quantitative","title":null,"scale":{"zero":false,"nice":false,"padding":6.07},"axis":{"tickCount":20,"values":[-0.2,-0.4,-0.6,-0.8]}},"y2":{"field":"hi"}}},
      {"mark":{"type":"tick","color":"#666","size":31,"thickness":2,"opacity":1},"encoding":{"y":{"field":"lo","type":"quantitative"}}},
      {"mark":{"type":"tick","color":"#666","size":31,"thickness":2,"opacity":1},"encoding":{"y":{"field":"hi","type":"quantitative"}}},
      {"mark":{"type":"bar","stroke":"#333","strokeWidth":1.5,"opacity":1},"encoding":{"y":{"field":"q1","type":"quantitative"},"y2":{"field":"q3"},"fill":{"field":"g","type":"nominal","title":null}}},
      {"mark":{"type":"tick","color":"#000","size":63,"thickness":4,"opacity":1},"encoding":{"y":{"field":"md","type":"quantitative"}}},
      {"mark":{"type":"point","shape":"square","size":4,"filled":true,"color":"#111","opacity":1},"encoding":{"y":{"field":"v","type":"quantitative"}}}
    ]},
    {"transform":[{"filter":"datum.p==26"}],"encoding":{"x":{"field":"g","type":"nominal","title":"mu.beta0.11","axis":{"orient":"top"}}},"layer":[
      {"mark":{"type":"rule","color":"#222","strokeDash":[4,3],"strokeWidth":1.1},"encoding":{"y":{"field":"lo","type":"quantitative","title":null,"scale":{"zero":false,"nice":false,"padding":6.07},"axis":{"tickCount":20,"values":[1,0.8,0.6,0.4,0.2,0]}},"y2":{"field":"hi"}}},
      {"mark":{"type":"tick","color":"#666","size":31,"thickness":2,"opacity":1},"encoding":{"y":{"field":"lo","type":"quantitative"}}},
      {"mark":{"type":"tick","color":"#666","size":31,"thickness":2,"opacity":1},"encoding":{"y":{"field":"hi","type":"quantitative"}}},
      {"mark":{"type":"bar","stroke":"#333","strokeWidth":1.5,"opacity":1},"encoding":{"y":{"field":"q1","type":"quantitative"},"y2":{"field":"q3"},"fill":{"field":"g","type":"nominal","title":null}}},
      {"mark":{"type":"tick","color":"#000","size":63,"thickness":4,"opacity":1},"encoding":{"y":{"field":"md","type":"quantitative"}}},
      {"mark":{"type":"point","shape":"square","size":4,"filled":true,"color":"#111","opacity":1},"encoding":{"y":{"field":"v","type":"quantitative"}}}
    ]},
    {"transform":[{"filter":"datum.p==27"}],"encoding":{"x":{"field":"g","type":"nominal","title":"mu.beta0.12","axis":{"orient":"top"}}},"layer":[
      {"mark":{"type":"rule","color":"#222","strokeDash":[4,3],"strokeWidth":1.1},"encoding":{"y":{"field":"lo","type":"quantitative","title":null,"scale":{"zero":false,"nice":false,"padding":6.07},"axis":{"tickCount":20,"values":[0.2,0,-0.2,-0.4,-0.6]}},"y2":{"field":"hi"}}},
      {"mark":{"type":"tick","color":"#666","size":31,"thickness":2,"opacity":1},"encoding":{"y":{"field":"lo","type":"quantitative"}}},
      {"mark":{"type":"tick","color":"#666","size":31,"thickness":2,"opacity":1},"encoding":{"y":{"field":"hi","type":"quantitative"}}},
      {"mark":{"type":"bar","stroke":"#333","strokeWidth":1.5,"opacity":1},"encoding":{"y":{"field":"q1","type":"quantitative"},"y2":{"field":"q3"},"fill":{"field":"g","type":"nominal","title":null}}},
      {"mark":{"type":"tick","color":"#000","size":63,"thickness":4,"opacity":1},"encoding":{"y":{"field":"md","type":"quantitative"}}},
      {"mark":{"type":"point","shape":"square","size":4,"filled":true,"color":"#111","opacity":1},"encoding":{"y":{"field":"v","type":"quantitative"}}}
    ]},
    {"transform":[{"filter":"datum.p==28"}],"encoding":{"x":{"field":"g","type":"nominal","title":"beta1","axis":{"orient":"top"}}},"layer":[
      {"mark":{"type":"rule","color":"#222","strokeDash":[4,3],"strokeWidth":1.1},"encoding":{"y":{"field":"lo","type":"quantitative","title":null,"scale":{"zero":false,"nice":false,"padding":6.07},"axis":{"tickCount":20,"values":[0.8,0.7,0.6,0.5,0.4,0.3]}},"y2":{"field":"hi"}}},
      {"mark":{"type":"tick","color":"#666","size":31,"thickness":2,"opacity":1},"encoding":{"y":{"field":"lo","type":"quantitative"}}},
      {"mark":{"type":"tick","color":"#666","size":31,"thickness":2,"opacity":1},"encoding":{"y":{"field":"hi","type":"quantitative"}}},
      {"mark":{"type":"bar","stroke":"#333","strokeWidth":1.5,"opacity":1},"encoding":{"y":{"field":"q1","type":"quantitative"},"y2":{"field":"q3"},"fill":{"field":"g","type":"nominal","title":null}}},
      {"mark":{"type":"tick","color":"#000","size":63,"thickness":4,"opacity":1},"encoding":{"y":{"field":"md","type":"quantitative"}}},
      {"mark":{"type":"point","shape":"square","size":4,"filled":true,"color":"#111","opacity":1},"encoding":{"y":{"field":"v","type":"quantitative"}}}
    ]},
    {"transform":[{"filter":"datum.p==29"}],"encoding":{"x":{"field":"g","type":"nominal","title":"beta2","axis":{"orient":"top"}}},"layer":[
      {"mark":{"type":"rule","color":"#222","strokeDash":[4,3],"strokeWidth":1.1},"encoding":{"y":{"field":"lo","type":"quantitative","title":null,"scale":{"zero":false,"nice":false,"padding":6.07},"axis":{"tickCount":20,"values":[0.4,0.3,0.2,0.1,0,-0.1]}},"y2":{"field":"hi"}}},
      {"mark":{"type":"tick","color":"#666","size":31,"thickness":2,"opacity":1},"encoding":{"y":{"field":"lo","type":"quantitative"}}},
      {"mark":{"type":"tick","color":"#666","size":31,"thickness":2,"opacity":1},"encoding":{"y":{"field":"hi","type":"quantitative"}}},
      {"mark":{"type":"bar","stroke":"#333","strokeWidth":1.5,"opacity":1},"encoding":{"y":{"field":"q1","type":"quantitative"},"y2":{"field":"q3"},"fill":{"field":"g","type":"nominal","title":null}}},
      {"mark":{"type":"tick","color":"#000","size":63,"thickness":4,"opacity":1},"encoding":{"y":{"field":"md","type":"quantitative"}}},
      {"mark":{"type":"point","shape":"square","size":4,"filled":true,"color":"#111","opacity":1},"encoding":{"y":{"field":"v","type":"quantitative"}}}
    ]},
    {"transform":[{"filter":"datum.p==30"}],"encoding":{"x":{"field":"g","type":"nominal","title":"beta3","axis":{"orient":"top"}}},"layer":[
      {"mark":{"type":"rule","color":"#222","strokeDash":[4,3],"strokeWidth":1.1},"encoding":{"y":{"field":"lo","type":"quantitative","title":null,"scale":{"zero":false,"nice":false,"padding":6.07},"axis":{"tickCount":20,"values":[0.8,0.7,0.6,0.5,0.4,0.3,0.2]}},"y2":{"field":"hi"}}},
      {"mark":{"type":"tick","color":"#666","size":31,"thickness":2,"opacity":1},"encoding":{"y":{"field":"lo","type":"quantitative"}}},
      {"mark":{"type":"tick","color":"#666","size":31,"thickness":2,"opacity":1},"encoding":{"y":{"field":"hi","type":"quantitative"}}},
      {"mark":{"type":"bar","stroke":"#333","strokeWidth":1.5,"opacity":1},"encoding":{"y":{"field":"q1","type":"quantitative"},"y2":{"field":"q3"},"fill":{"field":"g","type":"nominal","title":null}}},
      {"mark":{"type":"tick","color":"#000","size":63,"thickness":4,"opacity":1},"encoding":{"y":{"field":"md","type":"quantitative"}}},
      {"mark":{"type":"point","shape":"square","size":4,"filled":true,"color":"#111","opacity":1},"encoding":{"y":{"field":"v","type":"quantitative"}}}
    ]},
    {"transform":[{"filter":"datum.p==31"}],"encoding":{"x":{"field":"g","type":"nominal","title":"sd.beta0","axis":{"orient":"top"}}},"layer":[
      {"mark":{"type":"rule","color":"#222","strokeDash":[4,3],"strokeWidth":1.1},"encoding":{"y":{"field":"lo","type":"quantitative","title":null,"scale":{"zero":false,"nice":false,"padding":6.07},"axis":{"tickCount":20,"values":[0.95,0.9,0.85,0.8,0.75,0.7],"format":".2f"}},"y2":{"field":"hi"}}},
      {"mark":{"type":"tick","color":"#666","size":31,"thickness":2,"opacity":1},"encoding":{"y":{"field":"lo","type":"quantitative"}}},
      {"mark":{"type":"tick","color":"#666","size":31,"thickness":2,"opacity":1},"encoding":{"y":{"field":"hi","type":"quantitative"}}},
      {"mark":{"type":"bar","stroke":"#333","strokeWidth":1.5,"opacity":1},"encoding":{"y":{"field":"q1","type":"quantitative"},"y2":{"field":"q3"},"fill":{"field":"g","type":"nominal","title":null}}},
      {"mark":{"type":"tick","color":"#000","size":63,"thickness":4,"opacity":1},"encoding":{"y":{"field":"md","type":"quantitative"}}},
      {"mark":{"type":"point","shape":"square","size":4,"filled":true,"color":"#111","opacity":1},"encoding":{"y":{"field":"v","type":"quantitative"}}}
    ]}
  ],
  "config": {
    "font": "Liberation Sans",
    "numberFormat": ".1f",
    "locale": {"number": {"decimal": ".", "thousands": ",", "grouping": [3], "currency": ["$", ""], "minus": "-"}},
    "view": {"stroke": null, "continuousWidth": 254, "continuousHeight": 164, "discreteWidth": 254},
    "scale": {"bandPaddingInner": 0.2, "bandPaddingOuter": 0.22},
    "range": {"category": ["#cccccc", "#f5c468", "#63b863"]},
    "axisX": {"labels": false, "ticks": false, "domain": false, "grid": false, "titleFontSize": 20.5, "titleFontWeight": "normal", "titleColor": "#000", "titlePadding": 1.5, "titleBaseline": "alphabetic"},
    "axisY": {"grid": false, "domainColor": "#444", "tickColor": "#444", "tickSize": 6, "labelFontSize": 16, "labelColor": "#333", "labelPadding": 3, "labelOverlap": false},
    "legend": {"orient": "none", "legendX": 18.9, "legendY": 28.4, "padding": 0, "symbolType": "M-1,-0.833H1V0.833H-1Z", "symbolSize": 576, "symbolStrokeColor": "#555", "symbolStrokeWidth": 1.5, "symbolOpacity": 1, "labelFontSize": 31, "labelColor": "#000", "labelOffset": 23.8, "labelLimit": 400, "rowPadding": 7.8}
  }
}
